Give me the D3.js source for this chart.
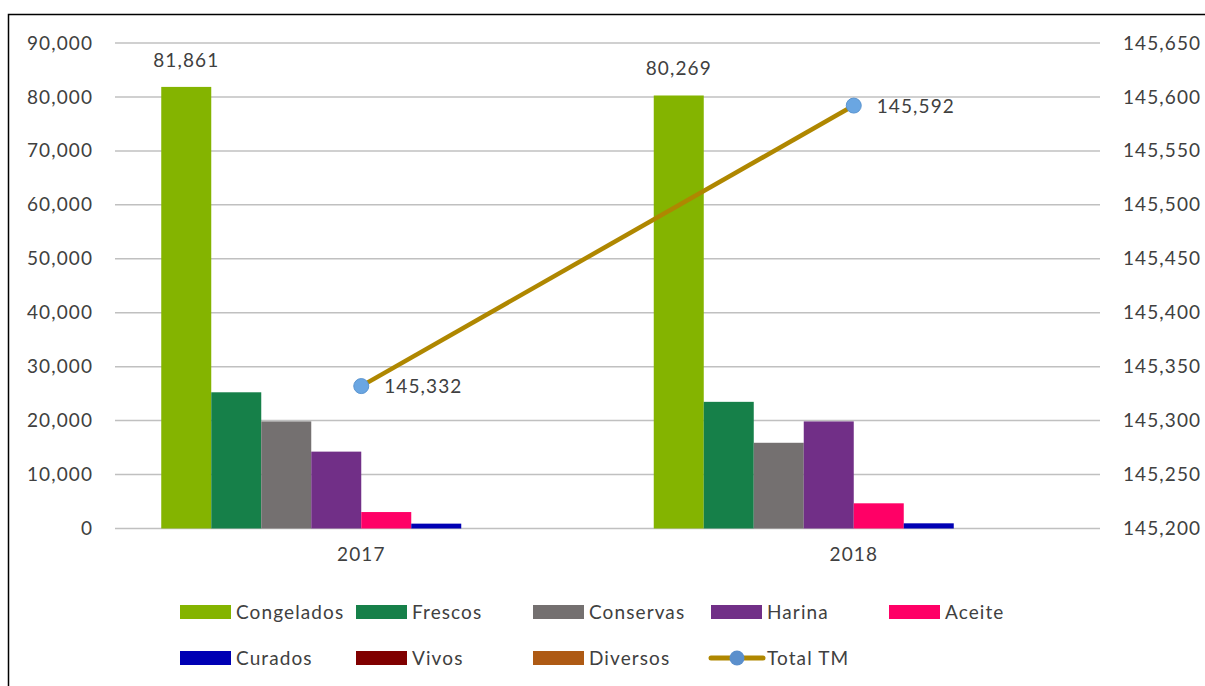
<!DOCTYPE html>
<html>
<head>
<meta charset="utf-8">
<script src="https://cdn.jsdelivr.net/npm/d3@7"></script>
<style>
  html, body { margin: 0; padding: 0; background: #fff; }
  svg { display: block; }
  text { font-family: Lato, "Noto Sans", sans-serif; fill: #404040; letter-spacing: 1.1px; }
</style>
</head>
<body>
<svg id="chart" width="1205" height="686"></svg>
<script>
// Exportaciones por tipo de producto (TM) y total anual
const years = ["2017", "2018"];
const seriesNames = ["Congelados", "Frescos", "Conservas", "Harina", "Aceite", "Curados", "Vivos", "Diversos"];
const seriesColors = ["#84B400", "#168049", "#747070", "#712F87", "#FF0066", "#0000B4", "#800000", "#AE5A14"];
const values2017 = [81861, 25250, 19850, 14250, 3050, 900, 0, 0];
const values2018 = [80269, 23480, 15890, 19850, 4670, 960, 0, 0];
const totalTM = [145332, 145592];
const leftTicks = [0, 10000, 20000, 30000, 40000, 50000, 60000, 70000, 80000, 90000];
const rightTicks = [145200, 145250, 145300, 145350, 145400, 145450, 145500, 145550, 145600, 145650];
const labeledSeries = ["Congelados"];

const valuesByYear = { "2017": values2017, "2018": values2018 };
const fmt = d3.format(",");
const FONT = "Lato, 'Noto Sans', sans-serif";

const svg = d3.select("#chart");
const plot = { left: 115, right: 1100, top: 43, bottom: 528.5 };

// outer frame
svg.append("rect")
  .attr("x", 8.5).attr("y", 14.5)
  .attr("width", 1220).attr("height", 700)
  .attr("fill", "none").attr("stroke", "#000").attr("stroke-width", 1.5);

const x0 = d3.scaleBand().domain(years).range([plot.left, plot.right]).padding(0);
const x1 = d3.scaleBand().domain(seriesNames).range([0, x0.bandwidth()])
  .paddingInner(0).paddingOuter(0.925);
const yL = d3.scaleLinear().domain([0, 90000]).range([plot.bottom, plot.top]);
const yR = d3.scaleLinear().domain([145200, 145650]).range([plot.bottom, plot.top]);
const color = d3.scaleOrdinal().domain(seriesNames).range(seriesColors);

// gridlines
svg.append("g")
  .selectAll("line").data(leftTicks).join("line")
  .attr("x1", plot.left).attr("x2", plot.right)
  .attr("y1", d => yL(d)).attr("y2", d => yL(d))
  .attr("stroke", "#C0C0C0").attr("stroke-width", 1.5);

function styleAxis(g) {
  g.select(".domain").remove();
  g.selectAll("text").attr("font-size", 19).attr("fill", "#404040")
    .style("font-family", FONT).style("letter-spacing", "1.1px");
}

// left axis
svg.append("g")
  .attr("transform", `translate(${plot.left - 22},0)`)
  .call(d3.axisLeft(yL).tickValues(leftTicks).tickFormat(fmt).tickSize(0).tickPadding(0))
  .call(styleAxis);

// right axis
svg.append("g")
  .attr("transform", `translate(${plot.right + 23},0)`)
  .call(d3.axisRight(yR).tickValues(rightTicks).tickFormat(fmt).tickSize(0).tickPadding(0))
  .call(styleAxis);

// category axis labels
svg.append("g")
  .attr("transform", `translate(0,${plot.bottom + 19})`)
  .call(d3.axisBottom(x0).tickSize(0).tickPadding(0))
  .call(styleAxis);

// bars
const groups = svg.append("g").selectAll("g").data(years).join("g")
  .attr("transform", d => `translate(${x0(d)},0)`);

groups.selectAll("rect")
  .data(year => seriesNames.map((s, i) => ({ year, series: s, value: valuesByYear[year][i] })))
  .join("rect")
  .attr("x", d => x1(d.series))
  .attr("width", x1.bandwidth())
  .attr("y", d => yL(d.value))
  .attr("height", d => plot.bottom - yL(d.value))
  .attr("fill", d => color(d.series));

groups.selectAll("text.val")
  .data(year => seriesNames.map((s, i) => ({ year, series: s, value: valuesByYear[year][i] }))
    .filter(d => labeledSeries.includes(d.series)))
  .join("text")
  .attr("class", "val")
  .attr("x", d => x1(d.series) + x1.bandwidth() / 2)
  .attr("y", d => yL(d.value) - 20)
  .attr("text-anchor", "middle")
  .attr("font-size", 19)
  .text(d => fmt(d.value));

// total line on secondary axis
const linePts = years.map((y, i) => ({ x: x0(y) + x0.bandwidth() / 2, y: yR(totalTM[i]), v: totalTM[i] }));
svg.append("path")
  .datum(linePts)
  .attr("d", d3.line().x(d => d.x).y(d => d.y))
  .attr("fill", "none").attr("stroke", "#AF8700").attr("stroke-width", 4.5);

svg.append("g").selectAll("circle").data(linePts).join("circle")
  .attr("cx", d => d.x).attr("cy", d => d.y).attr("r", 7.5)
  .attr("fill", "#6AA6E2").attr("stroke", "#5B95D0").attr("stroke-width", 1);

svg.append("g").selectAll("text").data(linePts).join("text")
  .attr("x", d => d.x + 23).attr("y", d => d.y + 7)
  .attr("font-size", 19)
  .text(d => fmt(d.v));

// legend
const legendItems = seriesNames.map(s => ({ name: s, type: "bar" }))
  .concat([{ name: "Total TM", type: "line" }]);
const colX = [180, 356, 533, 711, 889];
const rowY = [612, 658];
const leg = svg.append("g").selectAll("g").data(legendItems).join("g")
  .attr("transform", (d, i) => `translate(${colX[i % 5]},${rowY[Math.floor(i / 5)]})`);

leg.filter(d => d.type === "bar").append("rect")
  .attr("x", 0).attr("y", -7).attr("width", 51).attr("height", 14)
  .attr("fill", d => color(d.name));
leg.filter(d => d.type === "line").append("line")
  .attr("x1", 0).attr("x2", 52).attr("y1", 0).attr("y2", 0)
  .attr("stroke", "#AF8700").attr("stroke-width", 5).attr("stroke-linecap", "round");
leg.filter(d => d.type === "line").append("circle")
  .attr("cx", 26).attr("cy", 0).attr("r", 7.5)
  .attr("fill", "#5B8FCC");
leg.append("text")
  .attr("x", 56).attr("y", 7)
  .attr("font-size", 19)
  .text(d => d.name);
</script>
</body>
</html>
